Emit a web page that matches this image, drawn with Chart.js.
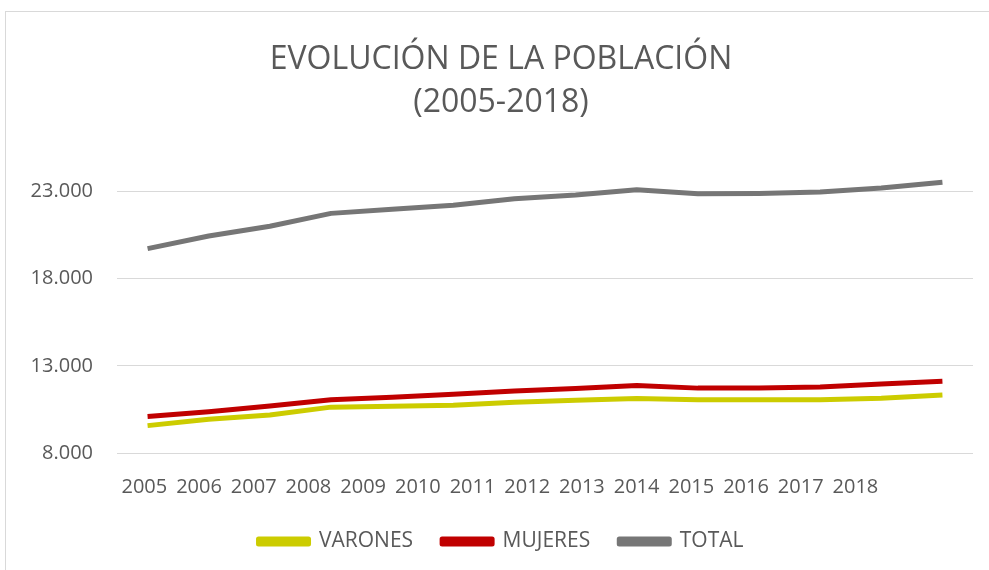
<!DOCTYPE html>
<html>
<head>
<meta charset="utf-8">
<script src="https://cdn.jsdelivr.net/npm/chart.js@4/dist/chart.umd.min.js"></script>
<style>
    html, body { margin: 0; padding: 0; background: #fff; overflow: hidden; }
    #frame {
        position: absolute; left: 5px; top: 11px;
        width: 1040px; height: 558px;
        border-left: 1px solid #d9d9d9; border-top: 1px solid #d9d9d9;
        background: #fff;
    }
</style>
</head>
<body>
<div id="frame"><canvas id="poblacion"></canvas></div>
<script>
// Datos (miles de habitantes, formato 23.000)
const YEARS = ['2005', '2006', '2007', '2008', '2009', '2010', '2011', '2012', '2013', '2014', '2015', '2016', '2017', '2018'];
const VARONES = [9570, 9940, 10180, 10630, 10680, 10740, 10910, 11020, 11120, 11050, 11050, 11050, 11140, 11330];
const MUJERES = [10090, 10360, 10700, 11050, 11200, 11370, 11560, 11700, 11870, 11720, 11720, 11790, 11950, 12120];
const TOTAL = [19720, 20440, 21000, 21740, 21970, 22200, 22580, 22800, 23100, 22860, 22880, 22960, 23200, 23530];
const Y_TICKS = [8000, 13000, 18000, 23000];

const TEXT = '#595959';
const FONT = "'Open Sans', sans-serif";

function serie(label, data, color) {
    return {
        label: label,
        data: data,
        borderColor: color,
        backgroundColor: color,
        borderWidth: 5,
        pointRadius: 0,
        tension: 0,
        clip: false,
        borderJoinStyle: 'round',
        xAxisID: 'x',
        yAxisID: 'y'
    };
}

new Chart(document.getElementById('poblacion'), {
    type: 'line',
    data: {
        labels: YEARS,
        datasets: [
            serie('VARONES', VARONES, '#cccc00'),
            serie('MUJERES', MUJERES, '#c00000'),
            serie('TOTAL', TOTAL, '#767676')
        ]
    },
    options: {
        responsive: true,
        maintainAspectRatio: false,
        animation: false,
        layout: { padding: { left: 23, right: 73, top: 0, bottom: 8 } },
        plugins: {
            title: {
                display: true,
                text: ['EVOLUCIÓN DE LA POBLACIÓN', '(2005-2018)'],
                color: TEXT,
                font: { family: FONT, size: 32, weight: 'normal', lineHeight: 1.35 },
                padding: { top: 26, bottom: 67 }
            },
            legend: {
                display: true,
                position: 'bottom',
                labels: {
                    color: TEXT,
                    font: { family: FONT, size: 21 },
                    boxWidth: 50,
                    boxHeight: 5,
                    padding: 29
                }
            },
            tooltip: { enabled: false }
        },
        scales: {
            x: {
                type: 'category',
                offset: true,
                display: false
            },
            // eje solo de etiquetas (en el original no coinciden con los puntos)
            xl: {
                type: 'linear',
                position: 'bottom',
                min: -0.5,
                max: 15.15,
                grid: { display: false, drawTicks: false },
                border: { display: false },
                afterBuildTicks: function (axis) {
                    axis.ticks = YEARS.map(function (y, i) { return { value: i }; });
                },
                afterFit: function (axis) { axis.height = 49; },
                ticks: {
                    autoSkip: false,
                    maxRotation: 0,
                    padding: 22,
                    color: TEXT,
                    font: { family: FONT, size: 20 },
                    callback: function (value) { return YEARS[value]; }
                }
            },
            y: {
                min: 8000,
                max: 23000,
                afterBuildTicks: function (axis) {
                    axis.ticks = Y_TICKS.map(function (v) { return { value: v }; });
                },
                afterFit: function (axis) { axis.width = 88; },
                grid: { color: '#d9d9d9', lineWidth: 1, drawTicks: false },
                border: { display: false },
                ticks: {
                    padding: 24,
                    color: TEXT,
                    font: { family: FONT, size: 20 },
                    callback: function (value) { return (value / 1000).toFixed(3); }
                }
            }
        }
    }
});
</script>
</body>
</html>
